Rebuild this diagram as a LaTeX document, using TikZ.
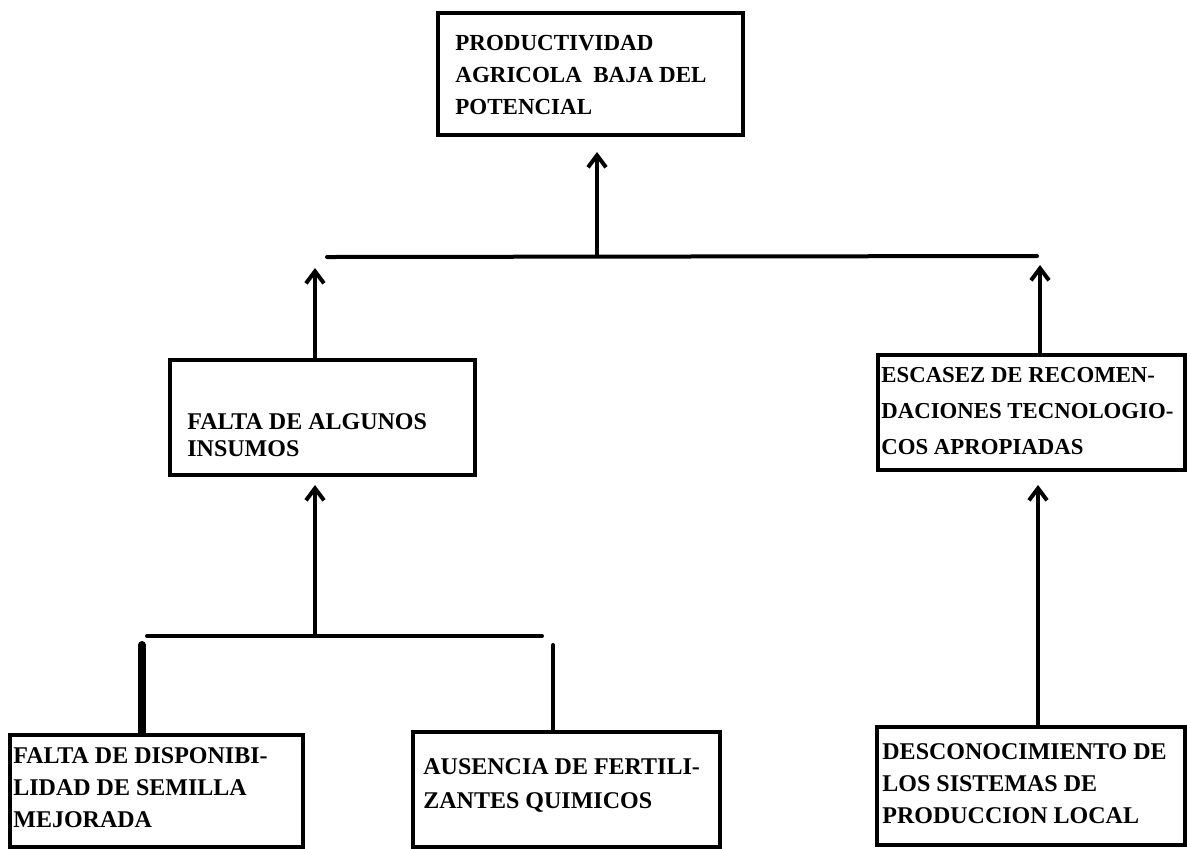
\documentclass[tikz,border=0pt]{standalone}
\usepackage{fontspec}
\setmainfont{Liberation Serif}
\usetikzlibrary{arrows.meta,calc}
\begin{document}
\begin{tikzpicture}[x=0.5pt,y=-0.5pt,
  box/.style={draw, line width=2pt, inner sep=0pt},
  txt/.style={anchor=north west, inner sep=0pt, align=left, font=\bfseries},
  conn/.style={line width=2pt, line cap=round},
  arr/.style={line width=2pt, -{Straight Barb[length=6pt,width=9pt]}}]
\useasboundingbox (0,0) rectangle (1187,848);
% boxes
\node[box, minimum width=152.5pt, minimum height=61pt] (top) at (590.5,74) {};
\node[box, minimum width=152.5pt, minimum height=57.5pt] (ml) at (322.5,417.5) {};
\node[box, minimum width=153.5pt, minimum height=57.5pt] (mr) at (1031.5,412.5) {};
\node[box, minimum width=146.5pt, minimum height=56pt] (b1) at (156.5,791) {};
\node[box, minimum width=153.5pt, minimum height=57.5pt] (b2) at (566.5,789.5) {};
\node[box, minimum width=154pt, minimum height=59pt] (b3) at (1031,786) {};
% texts
\node[txt, font=\bfseries\fontsize{11.5}{16}\selectfont] (ttop) at (455,35) {PRODUCTIVIDAD\\AGRICOLA\ \ BAJA DEL\\POTENCIAL};
\node[txt, font=\bfseries\fontsize{12}{13.5}\selectfont] (tml) at (187,413) {FALTA DE ALGUNOS\\INSUMOS};
\node[txt, font=\bfseries\fontsize{11.4}{18}\selectfont] (tmr) at (881,367) {ESCASEZ DE RECOMEN-\\DACIONES TECNOLOGIO-\\COS APROPIADAS};
\node[txt, font=\bfseries\fontsize{12}{16}\selectfont] (tb1) at (13,747) {FALTA DE DISPONIBI-\\LIDAD DE SEMILLA\\MEJORADA};
\node[txt, font=\bfseries\fontsize{12}{17}\selectfont] (tb2) at (423,758) {AUSENCIA DE FERTILI-\\ZANTES QUIMICOS};
\node[txt, font=\bfseries\fontsize{12}{16}\selectfont] (tb3) at (882,743) {DESCONOCIMIENTO DE\\LOS SISTEMAS DE\\PRODUCCION LOCAL};
% upper connectors
\coordinate (h1L) at (327,257);
\coordinate (h1R) at (1037,256);
\coordinate (j1) at (597,257);
\coordinate (j2) at (315,257);
\coordinate (j3) at (1040,256);
\draw[conn] (h1L) -- (h1R);
\draw[arr] (j1) -- ($(j1 |- top.south)+(0,15)$);
\draw[arr] (ml.north -| j2) -- ($(j2)+(0,11)$);
\draw[arr] (mr.north -| j3) -- ($(j3)+(0,9)$);
% lower connectors
\coordinate (h2L) at (147,636);
\coordinate (h2R) at (542,636);
\coordinate (j4) at (315,636);
\coordinate (d1) at (142,645);
\coordinate (d2) at (553,645);
\coordinate (j5) at (1038,600);
\draw[conn] (h2L) -- (h2R);
\draw[arr] (j4) -- ($(j4 |- ml.south)+(0,8)$);
\draw[conn, line width=4pt] (d1) -- (d1 |- b1.north);
\draw[conn] (d2) -- (d2 |- b2.north);
\draw[arr] (b3.north -| j5) -- ($(j5 |- mr.south)+(0,13)$);
\end{tikzpicture}
\end{document}
